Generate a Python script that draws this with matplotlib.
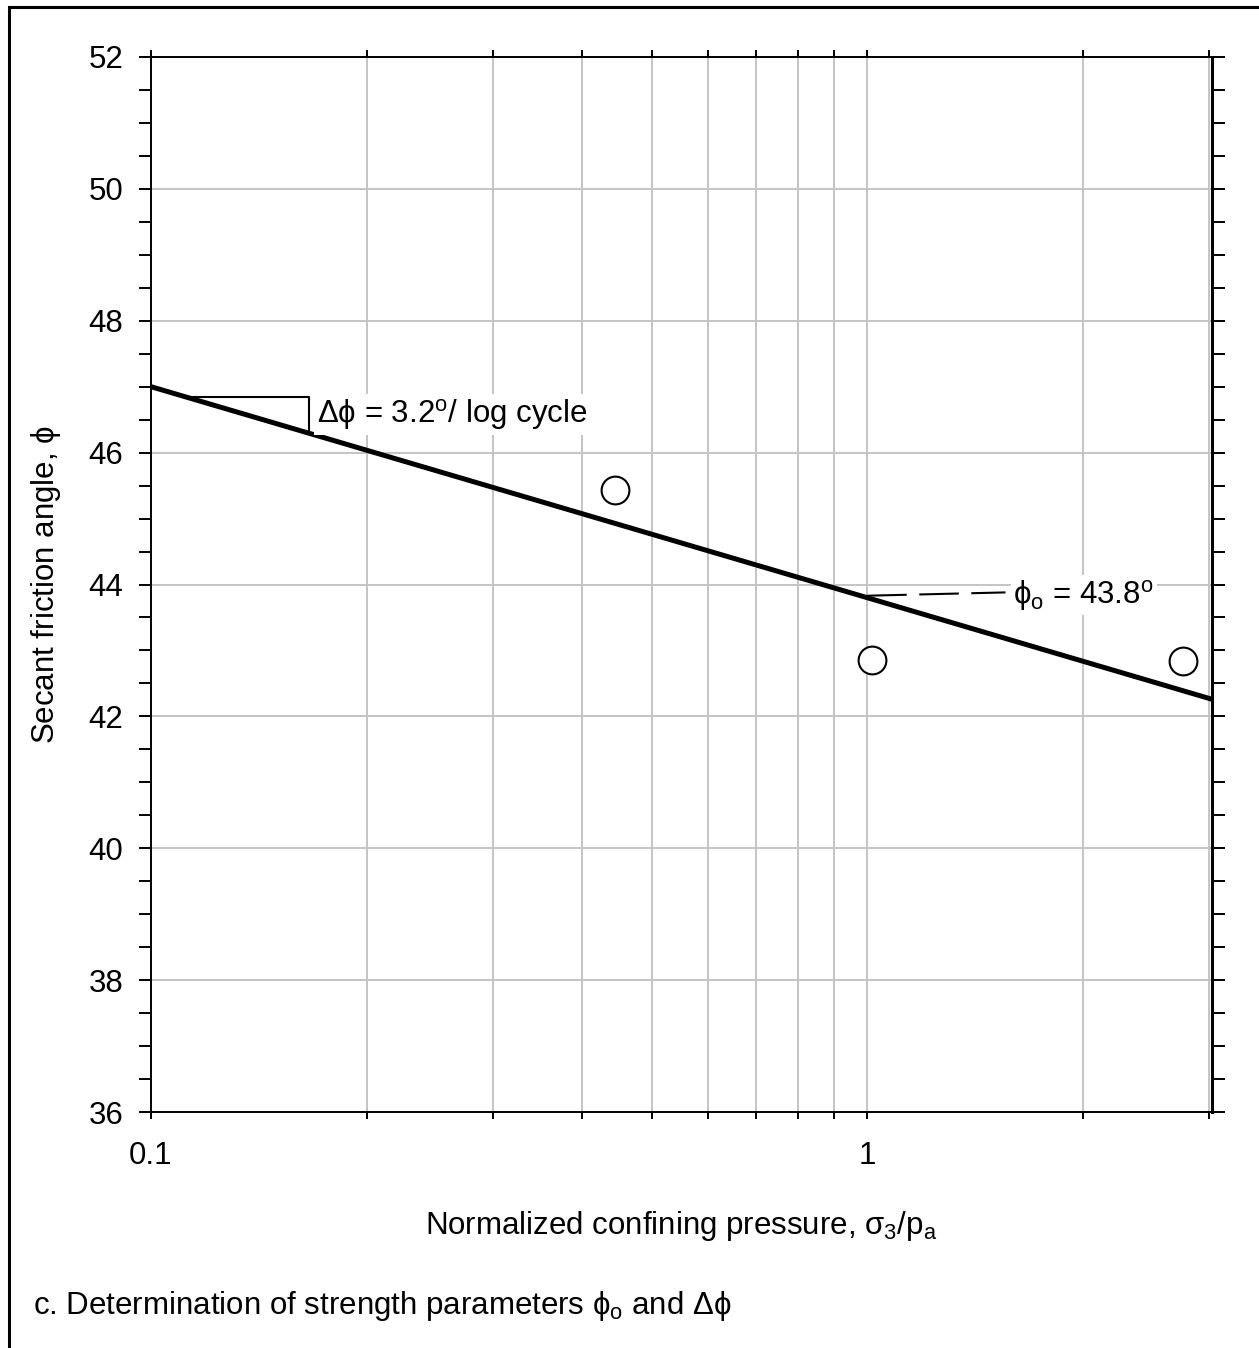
import numpy as np
import matplotlib
matplotlib.use("Agg")
import matplotlib.pyplot as plt
from matplotlib.ticker import FixedLocator, MultipleLocator, FixedFormatter
from matplotlib.patches import Rectangle

plt.rcParams['font.family'] = ['Liberation Sans', 'DejaVu Sans']
plt.rcParams['mathtext.fontset'] = 'custom'
plt.rcParams['mathtext.rm'] = 'Liberation Sans'
plt.rcParams['mathtext.it'] = 'Liberation Sans'
plt.rcParams['mathtext.bf'] = 'Liberation Sans:bold'

# measured points (normalized confining pressure, secant friction angle)
pressure = [0.445, 1.016, 2.76]
phi = [45.43, 42.86, 42.84]

# fitted line: phi = phi0 - dphi * log10(sigma3/pa)
phi0 = 43.8
dphi = 3.2
x_fit = [0.1, 3.03]

# slope triangle corners
tri_x = [0.112, 0.1663, 0.1663]
tri_y = [46.84, 46.84, 46.29]

# leader for phi0 label
lead_x = [1.0, 1.56]
lead_y = [43.83, 43.88]

x_ticks = [0.1, 0.2, 0.3, 0.4, 0.5, 0.6, 0.7, 0.8, 0.9, 1, 2, 3]
x_labels = ['0.1', '', '', '', '', '', '', '', '', '1', '', '']

fs = 22.5

fig = plt.figure(figsize=(12.59, 13.48), dpi=100)
ax = fig.add_axes([151/1259, 1 - 1112/1348, (1212 - 151)/1259, (1112 - 57)/1348])

ax.set_xscale('log')
ax.set_xlim(0.1, 3.03)
ax.set_ylim(36, 52)

# grid
ax.xaxis.set_major_locator(FixedLocator(x_ticks))
ax.xaxis.set_major_formatter(FixedFormatter(x_labels))
ax.xaxis.set_minor_locator(FixedLocator([]))
ax.yaxis.set_major_locator(MultipleLocator(2))
ax.yaxis.set_minor_locator(MultipleLocator(0.5))
ax.grid(True, which='major', color='#c4c4c4', lw=1.4, zorder=0)
ax.set_axisbelow(True)

# ticks
ax.tick_params(axis='x', which='major', direction='out', length=5, width=1.4,
               top=True, bottom=True, labelsize=fs, pad=16)
ax.tick_params(axis='y', which='both', direction='out', length=9, width=1.4,
               left=True, right=True, labelsize=fs, pad=11)
# longer ticks at 0.1, 1 and the right end
for t in ax.xaxis.get_major_ticks():
    if t.get_loc() in (0.1, 1, 3):
        t.tick1line.set_markersize(9)
        t.tick2line.set_markersize(9)

for s in ax.spines.values():
    s.set_linewidth(1.4)
ax.spines['right'].set_linewidth(2.2)

# fit line
xf = np.array(x_fit)
ax.plot(xf, phi0 - dphi * np.log10(xf), color='black', lw=3.6, zorder=3,
        solid_capstyle='butt', clip_on=False)

# slope triangle
ax.plot(tri_x, tri_y, color='black', lw=1.5, zorder=3)

# data points
ax.plot(pressure, phi, 'o', ms=20, mfc='white', mec='black', mew=1.5, zorder=4)

# annotations
ax.text(0.1705, 46.58, r'$\Delta\phi$ = 3.2$^{\rm o}$/ log cycle', fontsize=fs,
        va='center', ha='left', zorder=5,
        bbox=dict(facecolor='white', edgecolor='none', pad=2))
ax.plot(lead_x, lead_y, color='black', lw=1.5, ls=(0, (19, 6)), zorder=3)
ax.text(1.6, 43.84, r'$\phi_{\rm o}$ = 43.8$^{\rm o}$', fontsize=fs,
        va='center', ha='left', zorder=5,
        bbox=dict(facecolor='white', edgecolor='none', pad=2))

ax.set_xlabel(r'Normalized confining pressure, $\sigma_3$/p$_{\rm a}$', fontsize=fs, labelpad=27)
ax.set_ylabel(r'Secant friction angle, $\phi$', fontsize=fs, labelpad=18)

fig.text(33/1259, 1 - 1314/1348, r'c. Determination of strength parameters $\phi_{\rm o}$ and $\Delta\phi$',
         fontsize=fs, ha='left', va='baseline')

# frame around the figure (left and top edges visible)
fig.patches.append(Rectangle((9/1259, -0.1), 1.2, 1.1 - 7/1348, transform=fig.transFigure,
                             fill=False, edgecolor='black', lw=2.2, clip_on=False))

fig.savefig('out.png', dpi=100)
